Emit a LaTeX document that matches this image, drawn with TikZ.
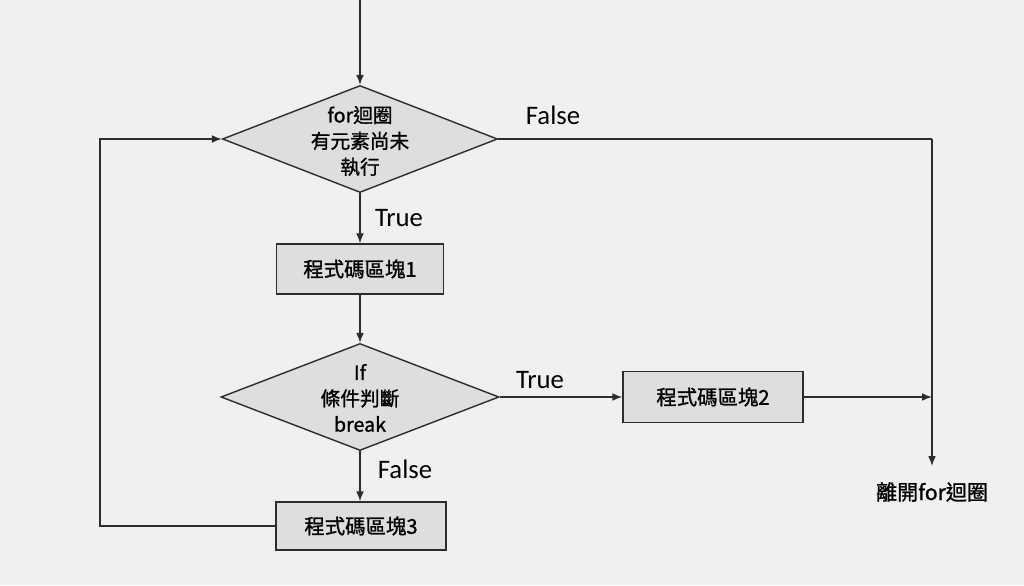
\documentclass[tikz,border=0pt]{standalone}
\usepackage{fontspec}
\setmainfont{Carlito}
\newfontfamily\cjk{Noto Sans CJK TC}[FakeBold=1.2]
\usetikzlibrary{shapes.geometric,arrows.meta}
\definecolor{bgc}{RGB}{240,240,239}
\definecolor{fillc}{RGB}{222,222,222}
\definecolor{linec}{RGB}{45,45,45}
\tikzset{
  flow/.style={draw=linec, line width=1pt},
  arr/.style={flow, -{Latex[length=7pt,width=5.5pt]}},
  decision/.style={diamond, draw=linec, line width=1pt, fill=fillc, inner sep=0pt},
  dtext/.style={font=\cjk\fontsize{14}{18.4}\selectfont, align=center, text=black},
  block/.style={rectangle, draw=linec, line width=1pt, fill=fillc, inner sep=0pt,
    font=\cjk\fontsize{14.5}{17}\selectfont, text=black},
  lbl/.style={font=\fontsize{19}{22}\selectfont, text=black},
}
\begin{document}
\begin{tikzpicture}[x=0.025cm,y=-0.025cm]
\fill[bgc] (0,0) rectangle (1024,585);
\useasboundingbox (0,0) rectangle (1024,585);

\node[decision, minimum width=6.875cm, minimum height=2.675cm] (d1) at (360,139) {};
\node[dtext] (d1t) at (360,141) {for迴圈\\有元素尚未\\執行};
\node[block, minimum width=4.175cm, minimum height=1.25cm] (b1) at (360,269) {程式碼區塊1};
\node[decision, minimum width=6.95cm, minimum height=2.675cm] (d2) at (360,397) {};
\node[dtext] (d2t) at (360,398) {If\\條件判斷\\break};
\node[block, minimum width=4.5cm, minimum height=1.275cm] (b2) at (713,397) {程式碼區塊2};
\node[block, minimum width=4.25cm, minimum height=1.2cm] (b3) at (361,526) {程式碼區塊3};

\coordinate (top) at (360,0);
\coordinate (xr) at (932,139);
\coordinate (xb) at (932,466);
\coordinate (xm) at (932,397);
\coordinate (lp) at (100,526);
\node[font=\cjk\fontsize{15}{17}\selectfont, text=black] (exit) at (932,492) {離開for迴圈};

\draw[arr] (top) -- (d1.north);
\draw[arr] (d1.south) -- (b1.north);
\draw[arr] (b1.south) -- (d2.north);
\draw[arr] (d2.east) -- (b2.west);
\draw[arr] (d2.south) -- (d2.south |- b3.north);
\draw[flow] (d1.east) -- (xr);
\draw[arr] (xr) -- (xb);
\draw[arr] (b2.east) -- (xm);
\draw[arr] (b3.west) -- (lp) |- (d1.west);

\node[lbl] (f1) at (553,115) {False};
\node[lbl] (t1) at (399,218) {True};
\node[lbl] (t2) at (540,380) {True};
\node[lbl] (f2) at (405,469) {False};
\end{tikzpicture}
\end{document}
